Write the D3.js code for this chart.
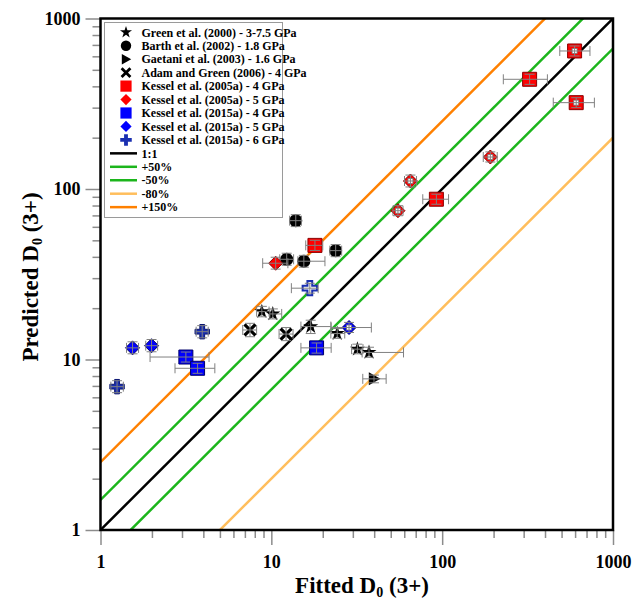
<!DOCTYPE html>
<html>
<head>
<meta charset="utf-8">
<script src="https://cdn.jsdelivr.net/npm/d3@7"></script>
<style>
  body { margin: 0; background: #fff; }
  text { font-family: "Liberation Serif", "Times New Roman", serif; font-weight: bold; }
</style>
</head>
<body>
<svg id="chart" width="633" height="603"></svg>
<script>
// Each row: [fitted, fitted low, fitted high, predicted, predicted low, predicted high]
const green2000 = [
  [8.8, 8.2, 9.7, 19.1, 17.8, 20.5],
  [10.2, 9.8, 11.5, 18.5, 17.3, 19.8],
  [17.0, 14.9, 22.3, 15.6, 14.2, 17.0],
  [24.3, 22.3, 26.9, 14.2, 13.3, 15.2],
  [31.9, 29.5, 34.4, 11.5, 10.8, 12.3],
  [37.3, 34.0, 59.4, 11.0, 10.3, 11.8]
];
const barth2002 = [
  [13.9, 12.8, 15.0, 65.2, 60.2, 70.7],
  [12.3, 11.2, 13.5, 38.7, 35.7, 42.0],
  [15.5, 14.3, 20.6, 37.7, 34.8, 40.8],
  [23.8, 22.0, 25.8, 43.5, 40.1, 47.2]
];
const gaetani2003 = [
  [39.9, 34.3, 47.0, 7.7, 7.3, 8.1]
];
const adamGreen2006 = [
  [7.5, 6.8, 8.2, 14.9, 13.6, 16.3],
  [12.2, 11.1, 13.4, 14.1, 12.9, 15.4]
];
const kessel2005a4 = [
  [18.0, 15.9, 20.0, 46.7, 43.6, 50.0],
  [325, 228, 413, 440, 411, 471],
  [92.5, 77, 109, 87.1, 81.4, 93.2],
  [609, 447, 778, 321, 300, 343],
  [596, 488, 733, 645, 603, 690]
];
const kessel2005a5 = [
  [10.6, 8.9, 12.5, 36.7, 33.9, 39.8],
  [55.1, 51.5, 59.0, 74.6, 69.7, 79.8],
  [65.2, 60.2, 70.7, 111.4, 102.8, 120.7],
  [191.4, 174, 210, 154, 144, 165]
];
const kessel2015a4 = [
  [3.16, 1.95, 4.32, 10.34, 9.66, 11.06],
  [3.70, 2.73, 4.67, 8.88, 8.30, 9.50],
  [18.4, 14.9, 22.4, 11.7, 10.9, 12.5]
];
const kessel2015a5 = [
  [1.54, 1.42, 1.67, 11.7, 10.8, 12.7],
  [1.99, 1.84, 2.16, 12.05, 11.1, 13.1],
  [28.5, 22.4, 38.5, 15.4, 14.4, 16.5]
];
const kessel2015a6 = [
  [1.25, 1.15, 1.36, 6.93, 6.39, 7.51],
  [3.94, 3.63, 4.27, 14.56, 13.4, 15.8],
  [16.8, 13.1, 18.8, 26.2, 24.5, 28.0]
];

const seriesLabels = [
  "Green et al. (2000) - 3-7.5 GPa",
  "Barth et al. (2002) - 1.8 GPa",
  "Gaetani et al. (2003) - 1.6 GPa",
  "Adam and Green (2006) - 4 GPa",
  "Kessel et al. (2005a) - 4 GPa",
  "Kessel et al. (2005a) - 5 GPa",
  "Kessel et al. (2015a) - 4 GPa",
  "Kessel et al. (2015a) - 5 GPa",
  "Kessel et al. (2015a) - 6 GPa"
];

// Reference lines: predicted = factor * fitted
const refLineLabels = ["1:1", "+50%", "-50%", "-80%", "+150%"];
const refLineFactors = [1, 1.5, 1 / 1.5, 0.2, 2.5];

const majorTicks = [1, 10, 100, 1000];
const xTitle = "Fitted D";
const yTitle = "Predicted D";

// ---------------------------------------------------------------
const svg = d3.select("#chart");
const plotL = 100.5, plotR = 613, plotT = 18.5, plotB = 530;

const x = d3.scaleLog().domain([1, 1000]).range([plotL, plotR]);
const y = d3.scaleLog().domain([1, 1000]).range([plotB, plotT]);

// marker shapes, sized in px
function markerPath(kind, s) {
  const p = d3.path();
  switch (kind) {
    case "star": return d3.symbol(d3.symbolStar, 70 * s * s)();
    case "circle": return d3.symbol(d3.symbolCircle, 133 * s * s)();
    case "plus": return d3.symbol(d3.symbolCross, 115 * s * s)();
    case "square": { const h = 7 * s; p.rect(-h, -h, 2 * h, 2 * h); return p.toString(); }
    case "diamond": {
      const h = 7 * s;
      p.moveTo(0, -h); p.lineTo(h, 0); p.lineTo(0, h); p.lineTo(-h, 0); p.closePath();
      return p.toString();
    }
    case "triRight": {
      const h = 6.5 * s;
      p.moveTo(-h * 0.8, -h); p.lineTo(h, 0); p.lineTo(-h * 0.8, h); p.closePath();
      return p.toString();
    }
    case "x": {
      const h = 5.5 * s;
      p.moveTo(-h, -h); p.lineTo(h, h); p.moveTo(-h, h); p.lineTo(h, -h);
      return p.toString();
    }
  }
}

const series = [
  { data: green2000,    kind: "star",     fill: "#000",    stroke: "none" },
  { data: barth2002,    kind: "circle",   fill: "#000",    stroke: "none" },
  { data: gaetani2003,  kind: "triRight", fill: "#000",    stroke: "none" },
  { data: adamGreen2006,kind: "x",        fill: "none",    stroke: "#000" },
  { data: kessel2005a4, kind: "square",   fill: "#ff0000", stroke: "#8a0000", open: [3, 4] },
  { data: kessel2005a5, kind: "diamond",  fill: "#ff0000", stroke: "#8a0000", open: [1, 2, 3] },
  { data: kessel2015a4, kind: "square",   fill: "#0000ff", stroke: "#00006a" },
  { data: kessel2015a5, kind: "diamond",  fill: "#0000ff", stroke: "#00006a", open: [2] },
  { data: kessel2015a6, kind: "plus",     fill: "#1a2fb0", stroke: "#0a1570", hollow: [2] }
];
series.forEach((s, i) => s.label = seriesLabels[i]);

const refColors = ["#000000", "#1cb51c", "#1cb51c", "#ffbe5c", "#ff8000"];

// clip region for plot contents
svg.append("defs").append("clipPath").attr("id", "plotClip")
  .append("rect").attr("x", plotL).attr("y", plotT)
  .attr("width", plotR - plotL).attr("height", plotB - plotT);

// ---- axes ----
const minorTicks = x.ticks().filter(v => !majorTicks.includes(v));
function styleAxis(g) {
  g.select(".domain").remove();
  g.selectAll(".tick line").attr("stroke", "#8c8c8c").attr("stroke-width", 1.5);
  g.selectAll(".tick text").attr("fill", "#000").attr("font-size", 18)
    .attr("font-family", "'Liberation Serif', 'Times New Roman', serif").attr("font-weight", "bold");
}
svg.append("g").attr("transform", `translate(0,${plotB})`)
  .call(d3.axisBottom(x).tickValues(minorTicks).tickSize(8).tickFormat("")).call(styleAxis);
svg.append("g").attr("transform", `translate(0,${plotB})`)
  .call(d3.axisBottom(x).tickValues(majorTicks).tickSize(15).tickPadding(10).tickFormat(d3.format("d")))
  .call(styleAxis);
svg.append("g").attr("transform", `translate(${plotL},0)`)
  .call(d3.axisLeft(y).tickValues(minorTicks).tickSize(8).tickFormat("")).call(styleAxis);
svg.append("g").attr("transform", `translate(${plotL},0)`)
  .call(d3.axisLeft(y).tickValues(majorTicks).tickSize(15).tickPadding(5).tickFormat(d3.format("d")))
  .call(styleAxis);

// ---- reference lines ----
const lineGen = d3.line().x(d => x(d[0])).y(d => y(d[1]));
svg.append("g").attr("clip-path", "url(#plotClip)")
  .selectAll("path").data(refLineFactors).join("path")
  .attr("d", k => lineGen([[1, k], [1000, 1000 * k]]))
  .attr("fill", "none")
  .attr("stroke", (k, i) => refColors[i])
  .attr("stroke-width", 2.5);

// ---- markers and error bars ----
const pts = svg.append("g").attr("clip-path", "url(#plotClip)");
const cap = 5;
series.forEach(s => {
  s.data.forEach((r, i) => {
    const cx = x(r[0]), cy = y(r[3]);
    const g = pts.append("g");
    const hollow = s.hollow && s.hollow.includes(i);
    g.append("path")
      .attr("d", markerPath(s.kind, 1))
      .attr("transform", `translate(${cx},${cy})`)
      .attr("fill", hollow ? "#fff" : s.fill)
      .attr("stroke", hollow ? s.fill : s.stroke)
      .attr("stroke-width", s.kind === "x" ? 3.2 : (hollow ? 2 : 1));
    if (s.open && s.open.includes(i)) {
      g.append("rect").attr("x", cx - 2.5).attr("y", cy - 2.5).attr("width", 5).attr("height", 5)
        .attr("fill", "#fff").attr("stroke", "#777").attr("stroke-width", 0.8);
    }
    // error bars drawn over the marker
    const e = g.append("g").attr("stroke", "#808080").attr("stroke-width", 1).attr("fill", "none");
    const x0 = x(r[1]), x1 = x(r[2]), y0 = y(r[4]), y1 = y(r[5]);
    e.append("line").attr("x1", x0).attr("x2", x1).attr("y1", cy).attr("y2", cy);
    e.append("line").attr("x1", x0).attr("x2", x0).attr("y1", cy - cap).attr("y2", cy + cap);
    e.append("line").attr("x1", x1).attr("x2", x1).attr("y1", cy - cap).attr("y2", cy + cap);
    e.append("line").attr("x1", cx).attr("x2", cx).attr("y1", y0).attr("y2", y1);
    e.append("line").attr("x1", cx - cap).attr("x2", cx + cap).attr("y1", y0).attr("y2", y0);
    e.append("line").attr("x1", cx - cap).attr("x2", cx + cap).attr("y1", y1).attr("y2", y1);
  });
});

// ---- frame ----
svg.append("rect").attr("x", plotL).attr("y", plotT)
  .attr("width", plotR - plotL).attr("height", plotB - plotT)
  .attr("fill", "none").attr("stroke", "#000").attr("stroke-width", 2.5);

// ---- legend ----
const lg = svg.append("g");
lg.append("rect").attr("x", 104.5).attr("y", 22.5).attr("width", 178).attr("height", 195)
  .attr("fill", "#fff").attr("stroke", "#9a9a9a").attr("stroke-width", 1);
const rowY = i => 32.3 + i * 13.45;
series.forEach((s, i) => {
  const cy = rowY(i);
  lg.append("path").attr("d", markerPath(s.kind, 0.8))
    .attr("transform", `translate(126,${cy})`)
    .attr("fill", s.fill)
    .attr("stroke", s.kind === "x" ? "#000" : "none")
    .attr("stroke-width", s.kind === "x" ? 2.8 : 0);
  lg.append("text").attr("x", 141.5).attr("y", cy).attr("dy", "0.35em")
    .attr("font-size", 12).text(s.label);
});
refLineLabels.forEach((lab, i) => {
  const cy = rowY(series.length + i);
  lg.append("line").attr("x1", 110).attr("x2", 137).attr("y1", cy).attr("y2", cy)
    .attr("stroke", refColors[i]).attr("stroke-width", 2.5);
  lg.append("text").attr("x", 141.5).attr("y", cy).attr("dy", "0.35em")
    .attr("font-size", 12).text(lab);
});

// ---- axis titles ----
const xt = svg.append("text").attr("x", 362).attr("y", 593)
  .attr("text-anchor", "middle").attr("font-size", 23);
xt.append("tspan").text(xTitle);
xt.append("tspan").attr("font-size", 14).attr("dy", 4).text("0");
xt.append("tspan").attr("dy", -4).text(" (3+)");

const yt = svg.append("text").attr("transform", "translate(38,277) rotate(-90)")
  .attr("text-anchor", "middle").attr("font-size", 23);
yt.append("tspan").text(yTitle);
yt.append("tspan").attr("font-size", 14).attr("dy", 4).text("0");
yt.append("tspan").attr("dy", -4).text(" (3+)");
</script>
</body>
</html>
